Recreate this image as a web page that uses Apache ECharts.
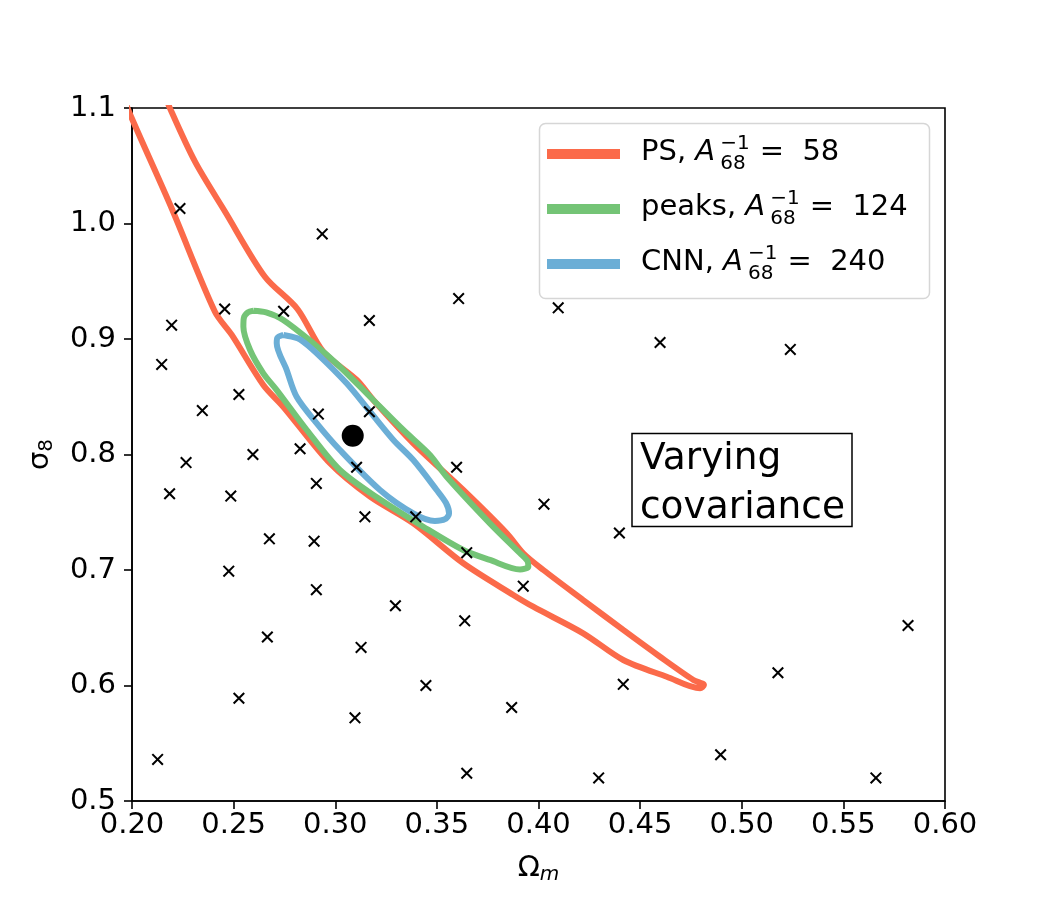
<!DOCTYPE html>
<html>
<head>
<meta charset="utf-8">
<script src="https://cdn.jsdelivr.net/npm/echarts@6/dist/echarts.min.js"></script>
<style>
  html, body { margin: 0; padding: 0; background: #fff; }
  #main { width: 1050px; height: 900px; }
</style>
</head>
<body>
<div id="main"></div>
<script>
// simulated cosmologies (Omega_m, sigma_8)
var simOm = [0.2236, 0.2936, 0.3607, 0.2456, 0.2746, 0.3168, 0.2195, 0.2146, 0.2526, 0.2346,
             0.2917, 0.3168, 0.3597, 0.2827, 0.2595, 0.2266, 0.3105, 0.2185, 0.2486, 0.2907,
             0.3146, 0.3396, 0.4027, 0.4398, 0.2676, 0.2896, 0.3647, 0.2476, 0.3925, 0.2907,
             0.3296, 0.3637, 0.2666, 0.3127, 0.3446, 0.4417, 0.3868, 0.2526, 0.3097, 0.2126,
             0.3647, 0.4296, 0.4896, 0.5660, 0.5178, 0.5818, 0.4097, 0.4598, 0.5239];
var simS8 = [1.013, 0.991, 0.935, 0.926, 0.924, 0.916, 0.912, 0.878, 0.852, 0.838,
             0.835, 0.837, 0.789, 0.805, 0.800, 0.793, 0.789, 0.766, 0.764, 0.775,
             0.746, 0.746, 0.757, 0.732, 0.727, 0.725, 0.715, 0.699, 0.686, 0.683,
             0.669, 0.656, 0.642, 0.633, 0.600, 0.601, 0.581, 0.589, 0.572, 0.536,
             0.524, 0.520, 0.540, 0.520, 0.611, 0.652, 0.927, 0.897, 0.891];

// fiducial cosmology
var fidOm = [0.3086];
var fidS8 = [0.8163];

// 68% contours
var psOm = [0.1943, 0.1999, 0.2195, 0.2408, 0.2491, 0.2646, 0.2744, 0.2974, 0.3171, 0.3384,
            0.3630, 0.3876, 0.3974, 0.4220, 0.4417, 0.4631, 0.4795, 0.4814, 0.4762, 0.4598,
            0.4417, 0.4220, 0.4024, 0.3925, 0.3844, 0.3630, 0.3384, 0.3187, 0.3106, 0.2941,
            0.2814, 0.2654, 0.2458, 0.2310, 0.2187, 0.2157];
var psS8 = [1.1156, 1.0911, 1.0132, 0.9236, 0.9035, 0.8602, 0.8414, 0.7924, 0.7635, 0.7404,
            0.7058, 0.6784, 0.6682, 0.6452, 0.6221, 0.6076, 0.5976, 0.6004, 0.6048, 0.6249,
            0.6481, 0.6740, 0.7000, 0.7145, 0.7318, 0.7693, 0.8097, 0.8472, 0.8645, 0.8890,
            0.9260, 0.9539, 1.0102, 1.0535, 1.0997, 1.1139];

var peaksOm = [0.2597, 0.2660, 0.2744, 0.2892, 0.3023, 0.3171, 0.3335, 0.3466, 0.3548, 0.3761,
               0.3909, 0.3945, 0.3950, 0.3909, 0.3761, 0.3630, 0.3433, 0.3210, 0.3023, 0.2860,
               0.2712, 0.2646, 0.2581, 0.2548, 0.2550, 0.2570, 0.2597];
var peaksS8 = [0.9245, 0.9230, 0.9165, 0.8963, 0.8760, 0.8500, 0.8212, 0.7996, 0.7808, 0.7404,
               0.7145, 0.7080, 0.7029, 0.7005, 0.7087, 0.7173, 0.7375, 0.7623, 0.7866, 0.8212,
               0.8558, 0.8703, 0.8905, 0.9106, 0.9180, 0.9230, 0.9245];

var cnnOm = [0.2745, 0.2786, 0.2827, 0.2909, 0.3056, 0.3171, 0.3286, 0.3384, 0.3499, 0.3545,
             0.3560, 0.3540, 0.3490, 0.3384, 0.3220, 0.3023, 0.2909, 0.2810, 0.2761, 0.2712,
             0.2715, 0.2745];
var cnnS8 = [0.9035, 0.9020, 0.8996, 0.8876, 0.8616, 0.8371, 0.8126, 0.7952, 0.7693, 0.7580,
             0.7490, 0.7440, 0.7425, 0.7491, 0.7693, 0.8039, 0.8270, 0.8500, 0.8732, 0.8963,
             0.9010, 0.9035];

var legendNames = ['PS, ', 'peaks, ', 'CNN, '];
var legendValues = ['58', '124', '240'];
var colors = ['#fb6a4a', '#74c476', '#6baed6'];

function zip(a, b) {
  return a.map(function (v, i) { return [v, b[i]]; });
}

var FONT = 'DejaVu Sans';
var ctx = document.createElement('canvas').getContext('2d');
function textWidth(str, size, style) {
  ctx.font = (style || 'normal') + ' ' + size + 'px "' + FONT + '"';
  return ctx.measureText(str).width;
}
// text placed by its baseline
function txt(str, x, baseline, size, style) {
  return {
    type: 'text', x: x, y: baseline - 0.35 * size,
    style: { text: str, fontSize: size, fontFamily: FONT, fontStyle: style || 'normal',
             fill: '#000', align: 'left', verticalAlign: 'middle' }
  };
}

// legend drawn by hand (A_68^-1 needs stacked scripts)
var legendEls = [{
  type: 'rect',
  shape: { x: 539.5, y: 123.5, width: 390, height: 175, r: 6 },
  style: { fill: 'rgba(255,255,255,0.8)', stroke: '#d6d6d6', lineWidth: 1.5 }
}];
legendNames.forEach(function (name, i) {
  var base = 163 + 55 * i;
  legendEls.push({ type: 'rect', shape: { x: 547, y: base - 14, width: 73, height: 10 },
                   style: { fill: colors[i] } });
  var x = 641;
  legendEls.push(txt(name, x, base, 29));
  x += textWidth(name, 29);
  legendEls.push(txt('A', x, base, 29, 'italic'));
  x += textWidth('A', 29, 'italic') + 5;
  legendEls.push(txt('\u22121', x, base - 12, 20));
  legendEls.push(txt('68', x, base + 8, 20));
  x += Math.max(textWidth('\u22121', 20), textWidth('68', 20)) + 10;
  legendEls.push(txt('=  ' + legendValues[i], x, base, 29));
});

// annotation box
legendEls.push({ type: 'rect', shape: { x: 632, y: 433.5, width: 220, height: 93 },
                 style: { fill: '#fff', stroke: '#000', lineWidth: 1.5 } });
legendEls.push(txt('Varying', 640, 472, 37.5));
legendEls.push(txt('covariance', 640, 521, 37.5));

var chart = echarts.init(document.getElementById('main'));

function contour(data, color) {
  return {
    type: 'line', data: data, showSymbol: false, smooth: 0.3, clip: true,
    lineStyle: { color: color, width: 6 }, z: 2, silent: true
  };
}

var crossPath = 'path://M0,1.2L1.2,0L10,8.8L8.8,10ZM8.8,0L10,1.2L1.2,10L0,8.8Z';

var option = {
  animation: false,
  backgroundColor: '#fff',
  grid: { left: 132, right: 105, top: 108, bottom: 99, show: true,
          borderColor: '#000', borderWidth: 1.6, backgroundColor: 'transparent' },
  xAxis: {
    type: 'value', min: 0.2, max: 0.6, interval: 0.05,
    name: '{o|\u03a9}{m|m}', nameLocation: 'middle', nameGap: 50,
    nameTextStyle: {
      fontFamily: FONT, color: '#000',
      rich: { o: { fontSize: 29, fontFamily: FONT },
              m: { fontSize: 20, fontFamily: FONT, fontStyle: 'italic', padding: [14, 0, 0, 0] } }
    },
    axisLine: { show: true, lineStyle: { color: '#000', width: 1.6 } },
    axisTick: { show: true, length: 8, lineStyle: { color: '#000', width: 1.6 } },
    axisLabel: { fontSize: 29, fontFamily: FONT, color: '#000', margin: 10,
                 formatter: function (v) { return v.toFixed(2); } },
    splitLine: { show: false }
  },
  yAxis: {
    type: 'value', min: 0.5, max: 1.1, interval: 0.1,
    name: '{s|\u03c3}{n|8}', nameLocation: 'middle', nameGap: 75, nameRotate: 90,
    nameTextStyle: {
      fontFamily: FONT, color: '#000',
      rich: { s: { fontSize: 29, fontFamily: FONT },
              n: { fontSize: 20, fontFamily: FONT, padding: [14, 0, 0, 0] } }
    },
    axisLine: { show: true, lineStyle: { color: '#000', width: 1.6 } },
    axisTick: { show: true, length: 8, lineStyle: { color: '#000', width: 1.6 } },
    axisLabel: { fontSize: 29, fontFamily: FONT, color: '#000', margin: 16,
                 formatter: function (v) { return v.toFixed(1); } },
    splitLine: { show: false }
  },
  graphic: { elements: legendEls },
  series: [
    contour(zip(psOm, psS8), colors[0]),
    contour(zip(peaksOm, peaksS8), colors[1]),
    contour(zip(cnnOm, cnnS8), colors[2]),
    {
      type: 'scatter', data: zip(simOm, simS8), symbol: crossPath, symbolSize: 12,
      itemStyle: { color: '#000', opacity: 1 }, z: 3, silent: true
    },
    {
      type: 'scatter', data: zip(fidOm, fidS8), symbol: 'circle', symbolSize: 22,
      itemStyle: { color: '#000', opacity: 1 }, z: 4, silent: true
    }
  ]
};

chart.setOption(option);
</script>
</body>
</html>
